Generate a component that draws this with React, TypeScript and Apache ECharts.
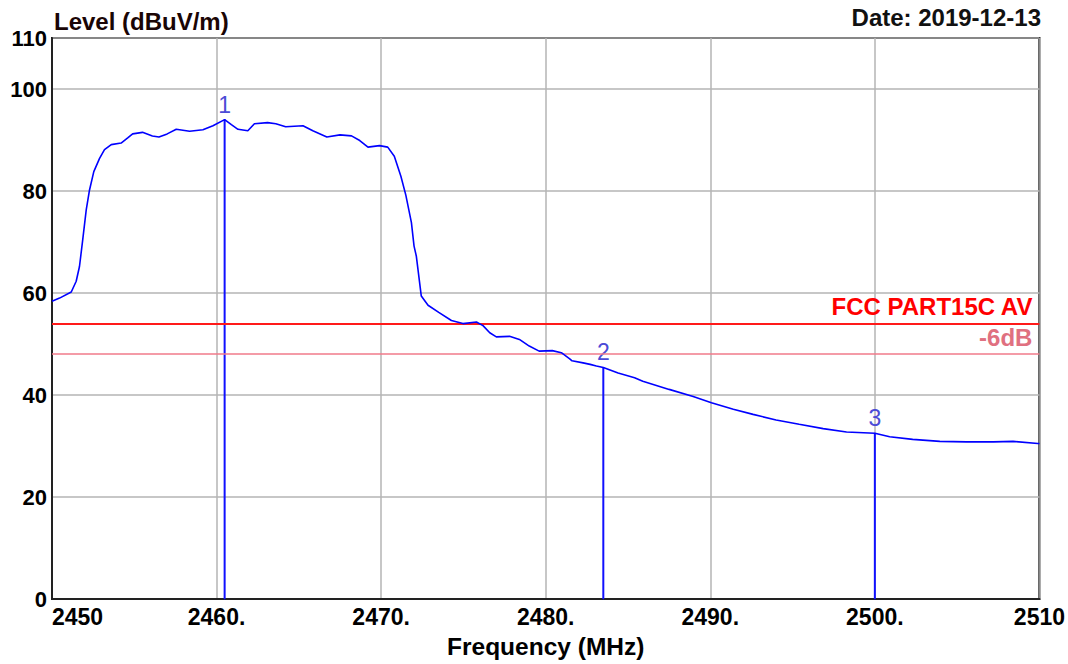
import React, { useEffect, useRef } from 'react';
import * as echarts from 'echarts';

const traceFreqs = [
  2450.0, 2450.46, 2451.17, 2451.47, 2451.67, 2451.87, 2452.08, 2452.28, 2452.54, 2452.89,
  2453.19, 2453.6, 2454.2, 2454.6, 2454.9, 2455.5, 2456.1, 2456.5, 2457.0, 2457.55,
  2458.36, 2459.17, 2459.78, 2460.49, 2460.9, 2461.3, 2461.9, 2462.3, 2463.1, 2463.6,
  2464.2, 2465.25, 2465.85, 2466.7, 2467.5, 2468.2, 2468.7, 2469.2, 2469.9, 2470.4,
  2470.8, 2471.2, 2471.5, 2471.84, 2472.0, 2472.14, 2472.24, 2472.44, 2472.85, 2473.5,
  2474.27, 2474.97, 2475.79, 2476.19, 2476.6, 2477.0, 2477.8, 2478.4, 2479.0, 2479.6,
  2480.4, 2480.95, 2481.46, 2481.6, 2482.27, 2482.7, 2483.08, 2483.5, 2484.4, 2485.4,
  2485.9, 2487.5, 2488.96, 2490.07, 2491.4, 2492.6, 2494.0, 2495.4, 2496.86, 2498.28,
  2500.0, 2500.9, 2502.3, 2503.95, 2505.57, 2507.2, 2508.4, 2509.9, 2510.0,
];
const traceLevels = [
  58.4, 59.0, 60.2, 62.3, 65.2, 70.5, 76.3, 80.2, 83.8, 86.4,
  88.1, 89.1, 89.4, 90.4, 91.2, 91.5, 90.8, 90.6, 91.2, 92.1,
  91.7, 92.0, 92.8, 94.0, 93.0, 92.1, 91.8, 93.2, 93.4, 93.2,
  92.6, 92.8, 91.8, 90.6, 91.0, 90.8, 89.9, 88.6, 88.9, 88.6,
  86.8, 82.9, 79.2, 73.8, 69.2, 67.2, 64.6, 59.4, 57.6, 56.2,
  54.6, 54.0, 54.3, 53.6, 52.2, 51.4, 51.5, 50.9, 49.6, 48.6,
  48.7, 48.3, 47.1, 46.7, 46.3, 46.0, 45.7, 45.4, 44.3, 43.4,
  42.7, 41.1, 39.7, 38.5, 37.2, 36.2, 35.1, 34.25, 33.4, 32.75,
  32.5, 31.8, 31.3, 30.9, 30.8, 30.8, 30.9, 30.5, 30.5,
];

const markerNames = ['1', '2', '3'];
const markerFreqs = [2460.49, 2483.5, 2500.0];
const markerLevels = [94.0, 45.4, 32.5];

const limitNames = ['FCC PART15C AV', '-6dB'];
const limitLevels = [54, 48];

const xTickValues = [2450, 2460, 2470, 2480, 2490, 2500, 2510];
const xTickLabels = ['2450', '2460.', '2470.', '2480.', '2490.', '2500.', '2510'];
const yTickValues = [0, 20, 40, 60, 80, 100, 110];
const yTickLabels = ['0', '20', '40', '60', '80', '100', '110'];

const yAxisTitle = 'Level (dBuV/m)';
const xAxisTitle = 'Frequency (MHz)';
const dateText = 'Date: 2019-12-13';

const FONT = 'Arial, "Liberation Sans", sans-serif';

export default function App() {
  const ref = useRef<HTMLDivElement>(null);
  useEffect(() => {
    if (!ref.current) return;
    const chart = echarts.init(ref.current, undefined, { renderer: 'svg' });
    const trace = traceFreqs.map((f, i) => [f, traceLevels[i]]);
    const labelOf = (vals: number[], labels: string[], v: number) => {
      const i = vals.findIndex((t) => Math.abs(t - v) < 1e-6);
      return i >= 0 ? labels[i] : '';
    };
    const limitColors = ['#ff1a1a', '#f07a8a'];
    const limitLabelColors = ['#ff0000', '#e07080'];
    const markerSeries = markerNames.map((n, i) => ({
      type: 'line',
      silent: true,
      symbol: 'circle',
      symbolSize: 1,
      showSymbol: true,
      itemStyle: { color: '#1010ff' },
      lineStyle: { color: '#1010ff', width: 2 },
      z: 4,
      data: [
        { value: [markerFreqs[i], 0], label: { show: false } },
        {
          value: [markerFreqs[i], markerLevels[i]],
          label: {
            show: true,
            position: 'top',
            distance: 3,
            formatter: n,
            color: '#4b4bd6',
            fontSize: 23,
            fontFamily: FONT,
          },
        },
      ],
    }));
    const limitSeries = limitNames.map((n, i) => ({
      type: 'line',
      silent: true,
      data: [],
      markLine: {
        silent: true,
        symbol: 'none',
        animation: false,
        lineStyle: { color: limitColors[i], width: i === 0 ? 2 : 1.5, type: 'solid' },
        label: {
          show: true,
          position: 'insideEndTop',
          formatter: n,
          color: limitLabelColors[i],
          fontSize: 24,
          fontWeight: 'bold',
          fontFamily: FONT,
          distance: [7, 5],
        },
        data: [{ yAxis: limitLevels[i] }],
      },
    }));
    chart.setOption({
      animation: false,
      backgroundColor: '#ffffff',
      grid: {
        left: 52,
        right: 28,
        top: 38,
        bottom: 64,
        show: true,
        borderColor: '#000',
        borderWidth: 2,
      },
      xAxis: {
        type: 'value',
        min: 2450,
        max: 2510,
        interval: 10,
        name: xAxisTitle,
        nameLocation: 'middle',
        nameGap: 35,
        nameTextStyle: { color: '#000', fontSize: 24.5, fontWeight: 'bold', fontFamily: FONT },
        axisLine: { show: true, lineStyle: { color: '#222', width: 2 } },
        axisTick: { show: false },
        axisLabel: {
          color: '#000',
          fontSize: 23,
          fontWeight: 'bold',
          fontFamily: FONT,
          margin: 6,
          alignMinLabel: 'left',
          alignMaxLabel: 'center',
          formatter: (v: number) => labelOf(xTickValues, xTickLabels, v),
        },
        splitLine: { show: true, lineStyle: { color: '#b4b4b4', width: 1.5 } },
      },
      yAxis: {
        type: 'value',
        min: 0,
        max: 110,
        interval: 20,
        axisLine: { show: true, lineStyle: { color: '#222', width: 2 } },
        axisTick: { show: false },
        axisLabel: {
          color: '#000',
          fontSize: 22,
          fontWeight: 'bold',
          fontFamily: FONT,
          margin: 5,
          formatter: (v: number) => labelOf(yTickValues, yTickLabels, v),
        },
        splitLine: { show: true, lineStyle: { color: '#b4b4b4', width: 1.5 } },
      },
      graphic: [
        {
          type: 'text',
          x: 54,
          y: 21,
          style: {
            text: yAxisTitle,
            font: `bold 24px ${FONT}`,
            fill: '#1a0505',
            align: 'left',
            verticalAlign: 'middle',
          },
        },
        {
          type: 'text',
          x: 1041,
          y: 17,
          style: {
            text: dateText,
            font: `bold 24px ${FONT}`,
            fill: '#111',
            align: 'right',
            verticalAlign: 'middle',
          },
        },
      ],
      series: [
        {
          type: 'line',
          silent: true,
          symbol: 'none',
          z: 5,
          lineStyle: { color: '#0000ff', width: 1.6 },
          data: trace,
        },
        ...markerSeries,
        ...limitSeries,
      ],
    });
    return () => chart.dispose();
  }, []);
  return (
    <div
      ref={ref}
      style={{ position: 'fixed', left: 0, top: 0, width: 1068, height: 664, background: '#fff' }}
    />
  );
}
